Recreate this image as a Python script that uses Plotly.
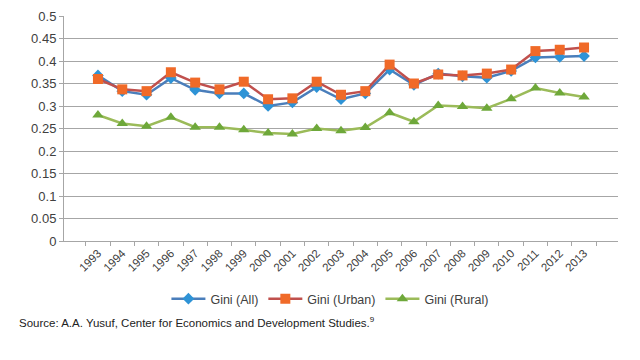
import plotly.graph_objects as go

years = [str(y) for y in range(1993, 2014)]
gini_all = [0.368, 0.333, 0.325, 0.362, 0.336, 0.328, 0.328, 0.300, 0.308, 0.342, 0.315,
            0.328, 0.381, 0.347, 0.372, 0.366, 0.363, 0.378, 0.408, 0.409, 0.411]
gini_urban = [0.360, 0.337, 0.333, 0.375, 0.352, 0.337, 0.354, 0.315, 0.317, 0.354, 0.325,
              0.333, 0.392, 0.350, 0.370, 0.368, 0.372, 0.381, 0.422, 0.425, 0.430]
gini_rural = [0.280, 0.261, 0.255, 0.275, 0.253, 0.253, 0.247, 0.240, 0.238, 0.250, 0.245,
              0.252, 0.285, 0.265, 0.301, 0.299, 0.295, 0.316, 0.340, 0.329, 0.320]
y_ticks = [0, 0.05, 0.1, 0.15, 0.2, 0.25, 0.3, 0.35, 0.4, 0.45, 0.5]
y_tick_labels = ["0", "0.05", "0.1", "0.15", "0.2", "0.25", "0.3", "0.35", "0.4", "0.45", "0.5"]

fig = go.Figure()
fig.add_trace(go.Scatter(x=years, y=gini_all, name="Gini (All)", mode="lines+markers",
                         line=dict(color="#4A7EBB", width=2.5),
                         marker=dict(symbol="diamond", size=9, color="#2E93D6")))
fig.add_trace(go.Scatter(x=years, y=gini_urban, name="Gini (Urban)", mode="lines+markers",
                         line=dict(color="#C0504D", width=2.5),
                         marker=dict(symbol="square", size=10, color="#F06A28")))
fig.add_trace(go.Scatter(x=years, y=gini_rural, name="Gini (Rural)", mode="lines+markers",
                         line=dict(color="#9BBB59", width=2.5),
                         marker=dict(symbol="triangle-up", size=10, color="#6EA83A")))

fig.update_layout(
    width=640, height=360,
    margin=dict(l=56, r=30, t=8, b=127, autoexpand=False),
    paper_bgcolor="white", plot_bgcolor="white",
    font=dict(family="Liberation Sans, Arial, sans-serif", color="#404040"),
    showlegend=True,
    legend=dict(orientation="h", x=0.48, xanchor="center", y=-0.258, yanchor="middle",
                font=dict(size=12.5, color="#404040"), itemwidth=34,
                tracegroupgap=0),
    xaxis=dict(type="category", tickangle=-45, tickfont=dict(size=11.5),
               showline=True, linecolor="#A6A6A6", linewidth=1,
               ticks="outside", tickson="boundaries", ticklen=4, tickcolor="#A6A6A6",
               showgrid=False, automargin=False),
    yaxis=dict(range=[0, 0.5], tickvals=y_ticks, ticktext=y_tick_labels,
               tickfont=dict(size=13),
               showline=True, linecolor="#A6A6A6", linewidth=1,
               ticks="outside", ticklen=4, tickcolor="#A6A6A6",
               showgrid=True, gridcolor="#A6A6A6", gridwidth=1, zeroline=False,
               automargin=False),
    annotations=[dict(text="Source: A.A. Yusuf, Center for Economics and Development Studies.<sup>9</sup>",
                      xref="paper", yref="paper", x=-0.085, xanchor="left",
                      y=-0.36, yanchor="middle", showarrow=False,
                      font=dict(size=11.5, color="#222222"))],
)

fig.write_html("out.html")
